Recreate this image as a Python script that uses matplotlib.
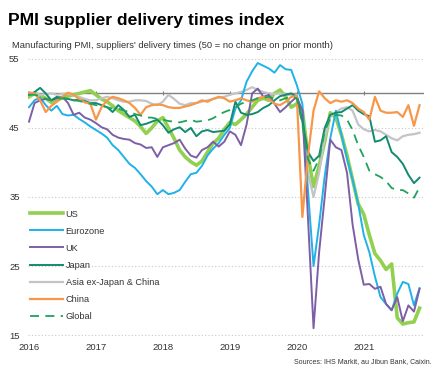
import matplotlib

matplotlib.use('Agg')
import matplotlib.pyplot as plt
import numpy as np

plt.rcParams['font.family'] = ['Liberation Sans', 'DejaVu Sans']

# monthly, Jan 2016 - Nov 2021
us = [49.5, 50.0, 49.7, 49.3, 48.7, 49.0, 49.4, 49.6, 49.8, 50.0, 50.2, 50.4,
      49.8, 49.2, 48.8, 48.2, 47.5, 47.0, 46.5, 46.0, 45.2, 44.2, 45.0, 46.0,
      46.5, 45.0, 43.5, 41.8, 40.8, 40.1, 39.6, 40.2, 41.5, 42.8, 43.5, 44.8,
      45.8, 45.5, 46.2, 47.0, 48.0, 49.0, 49.3, 49.0, 50.0, 50.5, 49.5, 48.0,
      48.5, 47.5, 41.0, 36.5, 39.5, 43.0, 47.2, 46.5, 44.0, 41.0, 37.5, 34.0,
      32.5, 29.5, 26.8, 25.8, 24.5, 25.3, 17.5, 16.6, 16.8, 16.9, 18.9]
eurozone = [48.0, 49.0, 49.4, 48.3, 47.5, 48.2, 47.0, 46.8, 46.9, 46.3, 45.8, 45.2,
            44.7, 44.2, 43.6, 42.5, 41.8, 40.8, 39.8, 39.2, 38.3, 37.3, 36.5, 35.4,
            36.0, 35.4, 35.6, 36.0, 37.2, 38.3, 38.5, 39.5, 41.0, 42.0, 42.8, 44.0,
            45.0, 47.8, 49.0, 51.7, 53.2, 54.4, 54.0, 53.6, 53.0, 54.1, 53.5, 53.4,
            51.2, 48.5, 36.0, 25.0, 31.0, 38.0, 43.5, 47.5, 44.0, 40.5, 37.5, 34.0,
            29.5, 27.0, 23.5, 20.5, 19.5, 18.6, 21.0, 22.7, 22.4, 19.3, 21.8]
uk = [45.9, 48.6, 49.0, 49.2, 49.0, 49.3, 49.5, 48.6, 46.9, 47.2, 46.5, 46.2,
      45.7, 45.1, 44.8, 44.0, 43.6, 43.4, 43.3, 42.8, 42.6, 42.1, 42.2, 40.8,
      42.2, 42.5, 42.8, 43.3, 42.0, 41.0, 40.7, 41.8, 42.2, 43.0, 42.3, 43.0,
      44.5, 44.0, 42.5, 45.5, 50.0, 50.7, 49.5, 49.8, 48.5, 47.3, 48.0, 48.8,
      49.5, 47.5, 32.0, 16.0, 27.0, 35.0, 43.3, 42.2, 41.8, 38.5, 31.0, 26.0,
      22.3, 22.4, 21.7, 22.0, 19.5, 18.6, 20.5, 17.0, 19.3, 18.4, 21.7]
japan = [49.8, 50.2, 50.8, 50.0, 49.0, 49.5, 49.3, 49.2, 49.0, 49.1, 48.9, 48.6,
         48.6, 48.3, 48.0, 47.3, 48.3, 47.6, 46.6, 46.9, 45.4, 45.6, 45.9, 46.2,
         45.4, 44.3, 44.8, 45.1, 44.4, 45.0, 43.8, 44.5, 44.7, 44.4, 44.5, 44.6,
         45.5, 48.8, 47.2, 46.9, 47.0, 47.3, 47.9, 48.3, 49.0, 49.6, 49.8, 50.0,
         49.5, 46.0, 41.5, 40.2, 41.0, 45.0, 46.9, 47.2, 47.3, 47.8, 48.3, 47.5,
         47.0, 46.7, 43.0, 43.2, 43.8, 41.5, 40.8, 39.8, 38.2, 37.0, 37.8]
asia = [50.1, 50.0, 49.8, 49.9, 50.0, 49.8, 49.9, 50.0, 49.7, 49.5, 49.2, 49.0,
        49.0, 49.3, 49.5, 49.3, 49.0, 48.8, 48.8, 49.0, 49.0, 48.9, 48.5, 48.3,
        48.8, 49.8, 49.2, 48.5, 48.3, 48.6, 48.6, 48.8, 49.0, 49.2, 49.4, 49.5,
        49.8, 50.0, 50.2, 50.5, 50.9, 50.5, 50.2, 50.0, 49.9, 50.0, 49.8, 49.8,
        49.8, 46.0, 38.5, 35.0, 38.5, 43.5, 46.6, 47.3, 47.8, 48.0, 47.5, 45.5,
        44.8, 44.5, 44.7, 44.5, 44.0, 43.5, 43.2, 43.8, 44.0, 44.1, 44.3]
china = [50.1, 50.0, 49.0, 47.3, 48.2, 48.8, 49.5, 50.1, 49.8, 49.2, 48.7, 48.5,
         46.2, 48.0, 49.0, 49.5, 49.3, 49.0, 48.6, 47.9, 46.9, 48.0, 48.3, 48.4,
         48.3, 48.0, 47.9, 47.9, 48.1, 48.3, 48.6, 49.0, 48.8, 49.2, 49.5, 49.3,
         48.8, 49.0, 49.3, 49.0, 48.8, 49.3, 49.5, 49.2, 48.5, 48.3, 48.8, 49.5,
         49.6, 32.1, 41.0, 47.5, 50.3, 49.3, 48.6, 49.0, 48.8, 49.0, 48.6, 47.8,
         47.3, 46.2, 49.5, 47.5, 47.2, 47.2, 47.3, 46.6, 48.3, 45.3, 48.3]
glob = [49.8, 49.8, 49.6, 49.2, 49.0, 49.2, 49.3, 49.2, 49.0, 48.9, 48.7, 48.5,
        48.3, 48.2, 48.0, 47.8, 47.8, 47.5, 47.3, 47.0, 46.8, 46.5, 46.5, 46.3,
        46.2, 46.0, 45.9, 45.8, 46.0, 46.2, 45.9, 46.0, 46.1, 46.4, 46.9, 47.3,
        47.6, 48.0, 48.5, 48.8, 49.0, 49.3, 49.4, 49.5, 49.2, 49.0, 49.3, 49.5,
        49.3, 45.5, 40.5, 38.8, 40.5, 44.5, 46.4, 46.9, 46.8, 46.2, 44.7, 42.5,
        40.8, 38.8, 38.3, 37.9, 37.3, 36.3, 36.0, 36.0, 35.5, 34.9, 36.4]

years = ['2016', '2017', '2018', '2019', '2020', '2021']
yticks = [15, 25, 35, 45, 55]

months = np.arange(len(us))
year_pos = np.arange(len(years)) * 12

fig = plt.figure(figsize=(4.44, 3.77), dpi=100)
ax = fig.add_axes([0.063, 0.102, 0.892, 0.751])

for y in yticks:
    ax.axhline(y, color='#c8c8c8', lw=0.8, ls=(0, (1, 2)), zorder=0)
ax.axhline(50, color='#808080', lw=1.0, zorder=1)
ax.plot(year_pos, [50] * len(year_pos), ls='none', marker='|', ms=3,
        mew=0.8, color='#808080', zorder=1)

ax.plot(months, us, color='#92d050', lw=2.6, label='US', zorder=2)
ax.plot(months, eurozone, color='#1fb2e8', lw=1.4, label='Eurozone', zorder=3)
ax.plot(months, uk, color='#7d5fa7', lw=1.4, label='UK', zorder=3)
ax.plot(months, japan, color='#118a70', lw=1.4, label='Japan', zorder=3)
ax.plot(months, asia, color='#c4c4c4', lw=1.6, label='Asia ex-Japan & China', zorder=2)
ax.plot(months, china, color='#f7974a', lw=1.6, label='China', zorder=3)
ax.plot(months, glob, color='#1fa35c', lw=1.3, ls=(0, (5, 3.5)), label='Global', zorder=4)

ax.set_xlim(-0.18, 70.8)
ax.set_ylim(14.5, 55.5)
ax.set_yticks(yticks)
ax.set_xticks(year_pos)
ax.set_xticklabels(years)
ax.tick_params(axis='both', length=0, labelsize=6.8, colors='#333333')
ax.tick_params(axis='y', pad=6)
ax.tick_params(axis='x', pad=3)
for s in ax.spines.values():
    s.set_visible(False)

leg = ax.legend(loc='upper left', bbox_to_anchor=(0.0, 0.462), frameon=False,
                fontsize=6.6, handlelength=3.6, handletextpad=0.3,
                labelspacing=0.88, borderaxespad=0, borderpad=0.2)
for t in leg.get_texts():
    t.set_color('#333333')

fig.text(0.018, 0.945, 'PMI supplier delivery times index', fontsize=12.6,
         fontweight='bold', va='center', ha='left')
fig.text(0.027, 0.88, "Manufacturing PMI, suppliers' delivery times (50 = no change on prior month)",
         fontsize=6.75, va='center', ha='left', color='#333333')
fig.text(0.973, 0.04, 'Sources: IHS Markit, au Jibun Bank, Caixin.', fontsize=5.0,
         va='center', ha='right', color='#333333')

fig.savefig('out.png', dpi=100)
